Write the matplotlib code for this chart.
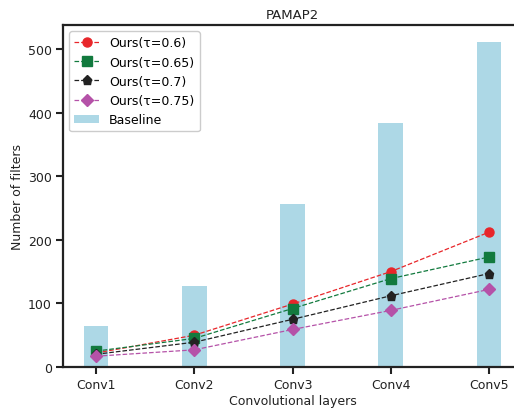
import matplotlib
matplotlib.use("Agg")
import matplotlib.pyplot as plt
import numpy as np

categories = ["Conv1", "Conv2", "Conv3", "Conv4", "Conv5"]
baseline = [64, 128, 256, 384, 512]
ours_06 = [22, 50, 99, 150, 212]
ours_065 = [25, 45, 92, 139, 173]
ours_07 = [20, 39, 75, 112, 147]
ours_075 = [17, 27, 59, 89, 122]

fig = plt.figure(figsize=(5.14, 4.10), dpi=100)
W, H = 514, 410
ax = fig.add_axes([63 / W, (H - 368) / H, (522 - 63) / W, (368 - 26) / H])

x = np.arange(len(categories))
ax.bar(x, baseline, width=0.25, color="#add8e6", label="Baseline", zorder=1)
ax.plot(x, ours_06, "--", marker="o", color="#e8262a", lw=0.9, ms=6.5, label="Ours(τ=0.6)", zorder=3)
ax.plot(x, ours_065, "--", marker="s", color="#127a3e", lw=0.9, ms=6.5, label="Ours(τ=0.65)", zorder=4)
ax.plot(x, ours_07, "--", marker="p", color="#222222", lw=0.9, ms=6.5, label="Ours(τ=0.7)", zorder=5)
ax.plot(x, ours_075, "--", marker="D", color="#b552a8", lw=0.9, ms=6, label="Ours(τ=0.75)", zorder=6)

ax.set_xticks(x)
ax.set_xticklabels(categories)
ax.set_yticks([0, 100, 200, 300, 400, 500])
ax.set_ylim(0, 538)
ax.tick_params(labelsize=9, width=1.5, length=5, color="#222222", labelcolor="#222222", pad=3)
for s in ["left", "bottom", "top", "right"]:
    ax.spines[s].set_linewidth(1.6)
    ax.spines[s].set_color("#222222")
ax.set_xlabel("Convolutional layers", fontsize=9, color="#222222", labelpad=2)
ax.set_ylabel("Number of filters", fontsize=9, color="#222222", labelpad=2.5)
ax.set_title("PAMAP2", fontsize=9.5, color="#222222", pad=5)
ax.legend(loc="upper left", fontsize=9, frameon=True, framealpha=1, edgecolor="#cccccc",
          handlelength=2.0, borderpad=0.4, labelspacing=0.5, markerscale=1.0)

fig.savefig("out.png", dpi=100)
